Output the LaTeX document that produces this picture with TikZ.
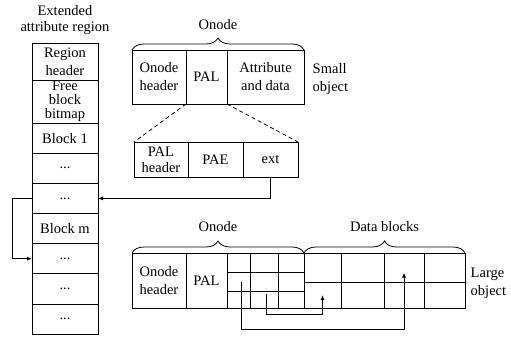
\documentclass[tikz,border=0pt]{standalone}
\usepackage{fontspec}
\setmainfont{Liberation Serif}
\usetikzlibrary{positioning, arrows.meta, calc, decorations.pathreplacing}

\begin{document}
\begin{tikzpicture}[x=1pt, y=-1pt, line width=0.8pt,
    font=\fontsize{14.5}{18}\selectfont,
    cell/.style={draw, rectangle, inner sep=0pt, outer sep=0pt, align=center},
    ptr/.style={-{Latex[length=5pt, width=4pt]}},
    curly/.style={decorate, decoration={brace, amplitude=12pt}}]

    \useasboundingbox (0,0) rectangle (511,337);

    % Extended attribute region column
    \node[align=center, font=\fontsize{14.5}{16}\selectfont] (title) at (65,20) {Extended\\attribute region};
    \node[cell, minimum width=66pt, minimum height=37pt, anchor=north] (r1) at (65,43) {Region\\header};
    \node[cell, minimum width=66pt, minimum height=43pt, below=0pt of r1, font=\fontsize{14.5}{14}\selectfont] (r2) {Free\\block\\bitmap};
    \node[cell, minimum width=66pt, minimum height=30.15pt, below=0pt of r2] (r3) {Block 1};
    \node[cell, minimum width=66pt, minimum height=30.15pt, below=0pt of r3] (r4) {...};
    \node[cell, minimum width=66pt, minimum height=30.15pt, below=0pt of r4] (r5) {...};
    \node[cell, minimum width=66pt, minimum height=30.15pt, below=0pt of r5] (r6) {Block m};
    \node[cell, minimum width=66pt, minimum height=30.15pt, below=0pt of r6] (r7) {...};
    \node[cell, minimum width=66pt, minimum height=30.15pt, below=0pt of r7] (r8) {...};
    \node[cell, minimum width=66pt, minimum height=30.15pt, below=0pt of r8] (r9) {...};

    % Small object onode
    \node[cell, minimum width=54pt, minimum height=54pt, anchor=north west] (sHead) at (132,50) {Onode\\header};
    \node[cell, minimum width=41pt, minimum height=54pt, right=0pt of sHead] (sPal) {PAL};
    \node[cell, minimum width=77pt, minimum height=54pt, right=0pt of sPal] (sAttr) {Attribute\\and data};
    \draw[curly] (sHead.north west) -- (sAttr.north east) node[midway, above=17pt] {Onode};
    \node[anchor=west, align=left] (small) at (309,79) {Small\\object};

    % PAL expanded
    \node[cell, minimum width=54pt, minimum height=35pt, anchor=north west, font=\fontsize{14.5}{16}\selectfont] (palHead) at (134,142) {PAL\\header};
    \node[cell, minimum width=55pt, minimum height=35pt, right=0pt of palHead] (pae) {PAE};
    \node[cell, minimum width=55pt, minimum height=35pt, right=0pt of pae] (ext) {ext};
    \draw[dash pattern=on 4pt off 3pt] (sPal.south west) -- (palHead.north west);
    \draw[dash pattern=on 4pt off 3pt] (sPal.south east) -- (ext.north east);

    % pointers into the region
    \draw[ptr] (ext.south) |- (r5.east);
    \draw[ptr] (r5.west) -- ++(-20,0) |- (r7.west);

    % Large object onode and data blocks
    \node[cell, minimum width=54pt, minimum height=55pt, anchor=north west] (lHead) at (132,253) {Onode\\header};
    \node[cell, minimum width=41pt, minimum height=55pt, right=0pt of lHead] (lPal) {PAL};
    \foreach \c/\xa/\xb in {1/227/250, 2/250/278, 3/278/304}
        \foreach \r/\ya/\yb in {1/253/272, 2/272/291, 3/291/308}
            \node[cell, minimum width={(\xb-\xa)*1pt}, minimum height={(\yb-\ya)*1pt}] (g\c\r) at ({(\xa+\xb)/2},{(\ya+\yb)/2}) {};
    \foreach \c/\xa/\xb in {1/304/341, 2/341/384, 3/384/424, 4/424/465}
        \foreach \r/\ya/\yb in {1/253/282, 2/282/308}
            \node[cell, minimum width={(\xb-\xa)*1pt}, minimum height={(\yb-\ya)*1pt}] (d\c\r) at ({(\xa+\xb)/2},{(\ya+\yb)/2}) {};

    \draw[curly] (lHead.north west) -- (g31.north east) node[midway, above=18pt] {Onode};
    \draw[curly] (d11.north west) -- (d41.north east) node[midway, above=18pt] {Data blocks};
    \node[anchor=west, align=left] (large) at (467,283) {Large\\object};

    % pointers to data blocks
    \draw[ptr] ([xshift=2pt, yshift=-3pt]g23.north) -- ++(0,20) -| (d12.center);
    \draw[ptr] ([xshift=3pt]g12.center) -- ++(0,47.5) -| ([yshift=-5pt]d31.center);

\end{tikzpicture}
\end{document}
